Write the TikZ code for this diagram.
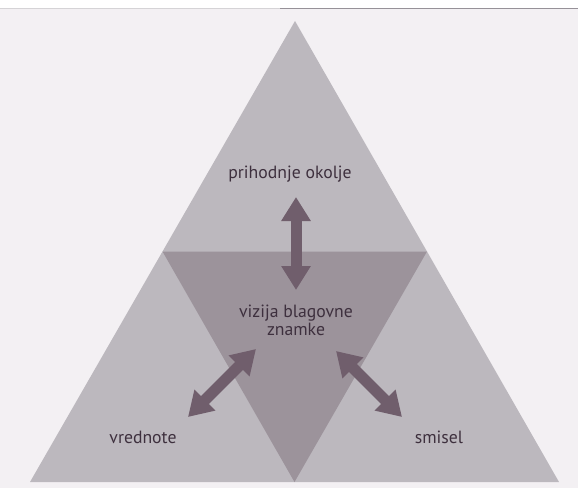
\documentclass[tikz,border=0pt]{standalone}
\usepackage{fontspec}
\setmainfont{PT Sans}
\usetikzlibrary{arrows.meta}
\definecolor{paper}{RGB}{243,240,243}
\definecolor{outerc}{RGB}{188,184,190}
\definecolor{innerc}{RGB}{156,147,155}
\definecolor{arrowc}{RGB}{112,94,108}
\definecolor{txtc}{RGB}{62,48,62}
\definecolor{edgec}{RGB}{150,145,152}
\begin{document}
\begin{tikzpicture}[x=1bp,y=-1bp,
  lbl/.style={font=\fontsize{17.7bp}{18bp}\selectfont, text=txtc, inner sep=0pt, align=center},
  dbl/.style={draw=arrowc, line width=11bp,
    {Triangle[width=28bp,length=24bp,fill=arrowc]}-{Triangle[width=28bp,length=24bp,fill=arrowc]}}]
\useasboundingbox (0,0) rectangle (578,488);
\fill[white] (0,0) rectangle (578,488);
\fill[paper] (0,8) rectangle (578,488);
\draw[edgec!40, line width=1bp] (0,8.5) -- (280,8.5);
\draw[edgec, line width=1.2bp] (280,8.5) -- (578,8.5);
% triangles
\fill[outerc] (295,21) -- (559,482) -- (30,482) -- cycle;
\fill[innerc] (162.5,251.5) -- (427,251.5) -- (294.5,482) -- cycle;
% labels
\node[lbl, anchor=base] (future) at (290,179) {prihodnje okolje};
\node[lbl, anchor=north] (vision) at (296,304.3) {vizija blagovne\\znamke};
\node[lbl, anchor=base] (values) at (143,443) {vrednote};
\node[lbl, anchor=base] (sense) at (439,443) {smisel};
% arrow ends
\coordinate (t1) at (296,197);
\coordinate (t2) at (296,290);
\coordinate (l1) at (256,349);
\coordinate (l2) at (188,417);
\coordinate (r1) at (336,351);
\coordinate (r2) at (402,417);
\draw[dbl] (t1) -- (t2);
\draw[dbl] (l1) -- (l2);
\draw[dbl] (r1) -- (r2);
\end{tikzpicture}
\end{document}
